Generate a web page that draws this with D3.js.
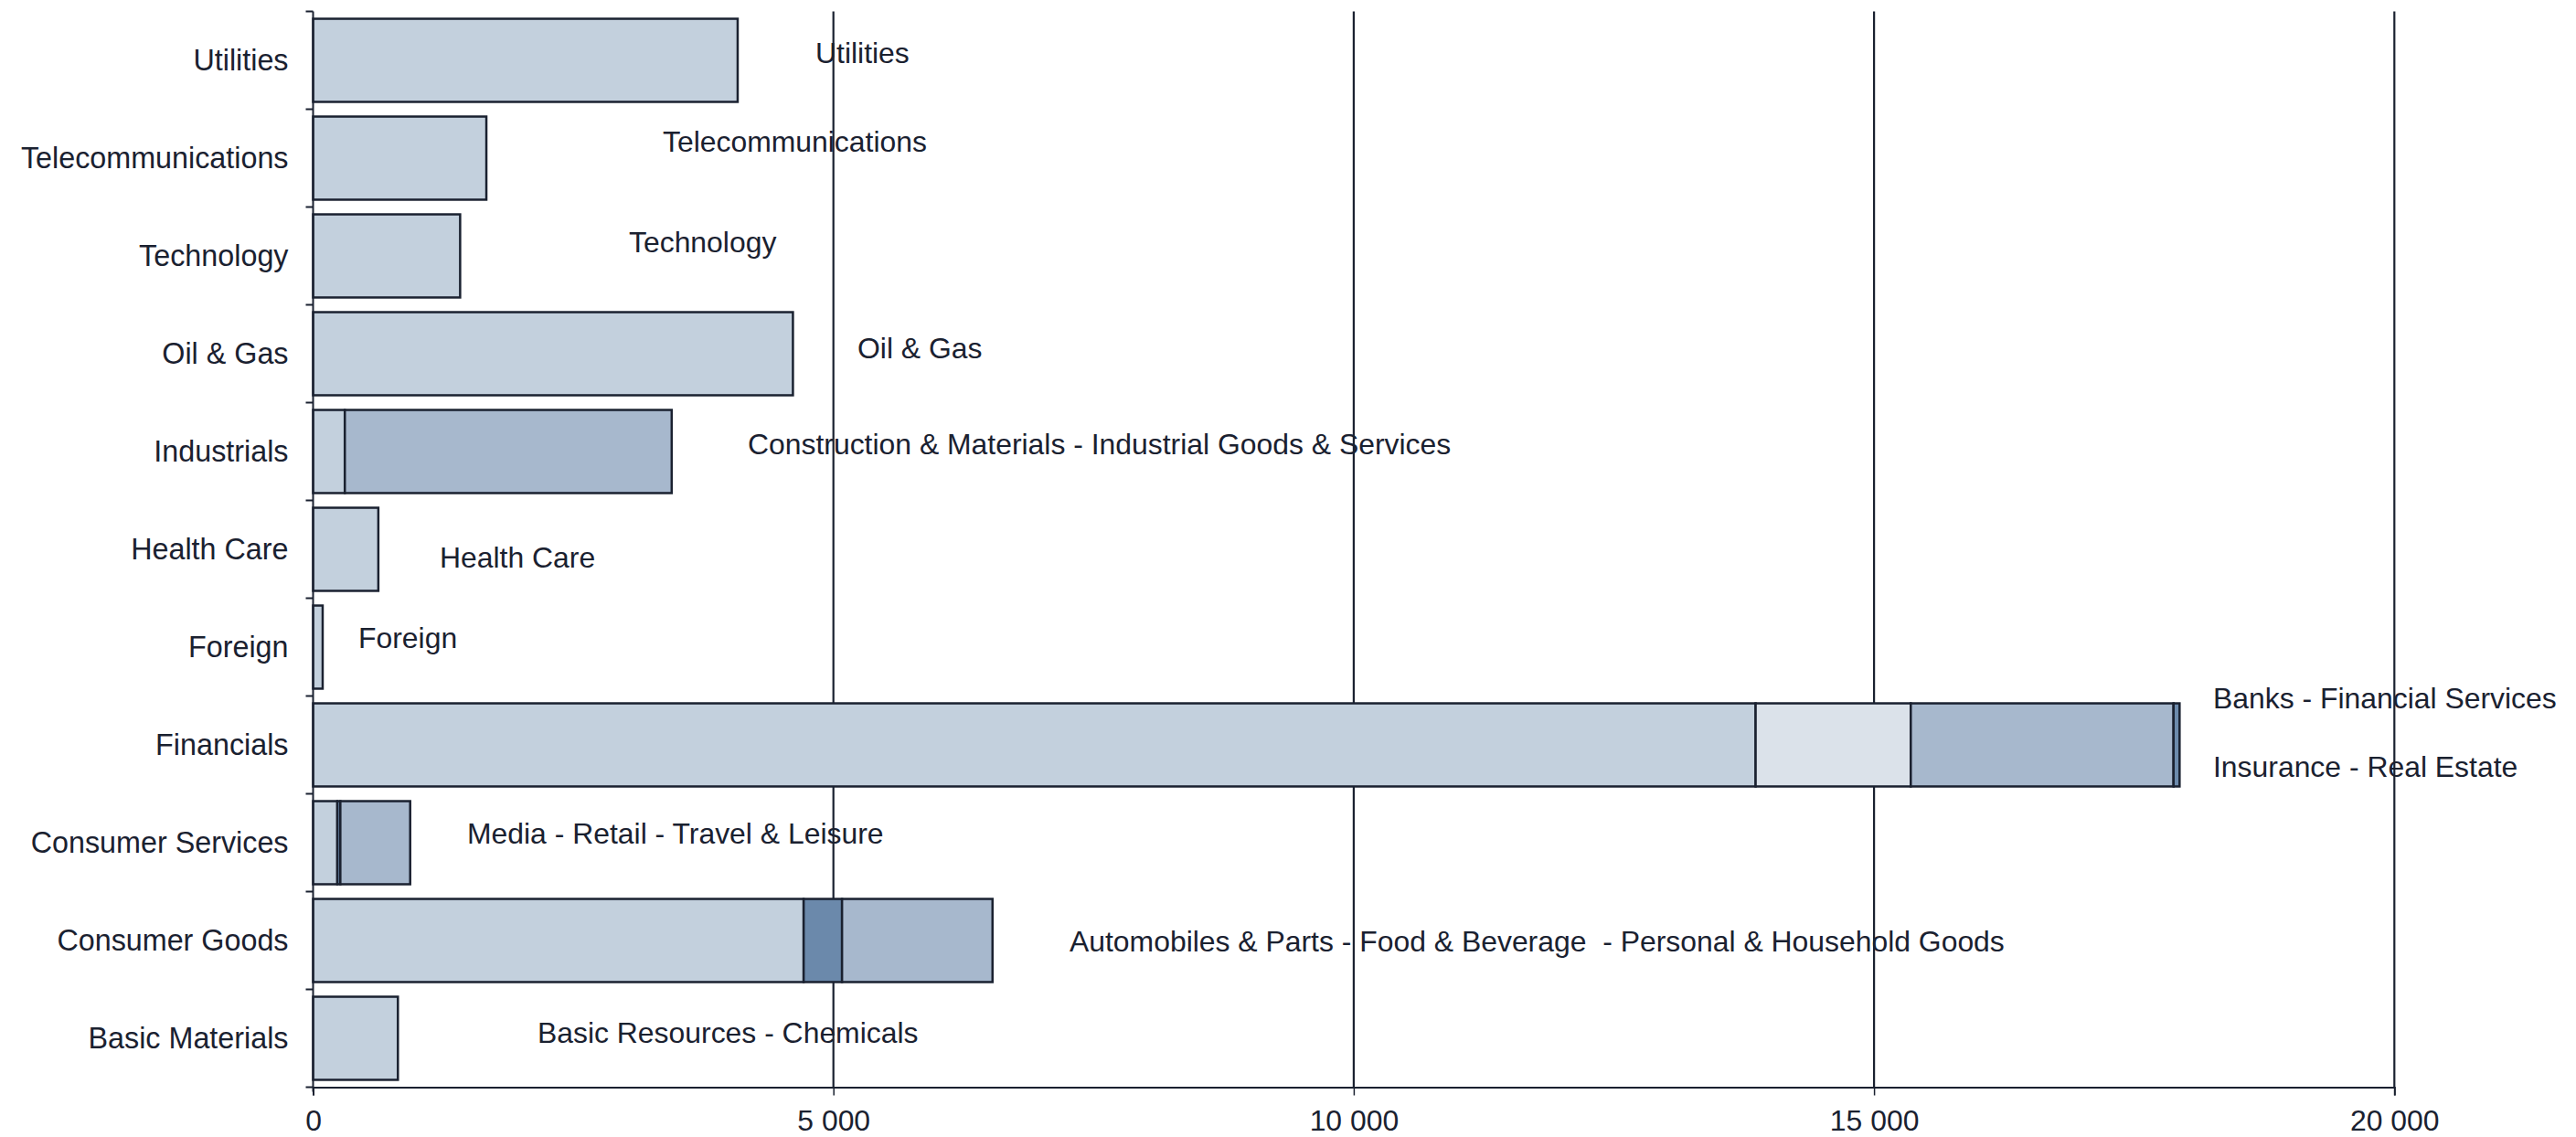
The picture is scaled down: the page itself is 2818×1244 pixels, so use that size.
<!DOCTYPE html>
<html>
<head>
<meta charset="utf-8">
<script src="https://cdn.jsdelivr.net/npm/d3@7"></script>
<style>
  html, body { margin: 0; padding: 0; background: #ffffff; }
  svg { display: block; font-family: "Liberation Sans", Arial, sans-serif; }
  text { white-space: pre; }
</style>
</head>
<body>
<svg id="chart" width="2818" height="1244"></svg>
<script>
// ---------- data ----------
const categories = ["Utilities", "Telecommunications", "Technology", "Oil & Gas", "Industrials",
  "Health Care", "Foreign", "Financials", "Consumer Services", "Consumer Goods", "Basic Materials"];

// stacked segment values per category (left to right)
const segmentValues = [
  [4080],
  [1665],
  [1413],
  [4611],
  [305, 3141],
  [627],
  [92],
  [13862, 1491, 2525, 58],
  [233, 29, 671],
  [4714, 369, 1446],
  [815]
];
// shade index of each segment
const segmentShades = [
  [0], [0], [0], [0], [0, 2], [0], [0], [0, 3, 2, 1], [0, 1, 2], [0, 1, 2], [0]
];

// annotation texts (one or more per category)
const annotationTexts = [
  ["Utilities"],
  ["Telecommunications"],
  ["Technology"],
  ["Oil & Gas"],
  ["Construction & Materials - Industrial Goods & Services"],
  ["Health Care"],
  ["Foreign"],
  ["Banks - Financial Services", "Insurance - Real Estate"],
  ["Media - Retail - Travel & Leisure"],
  ["Automobiles & Parts - Food & Beverage  - Personal & Household Goods"],
  ["Basic Resources - Chemicals"]
];

const xTicks = [0, 5000, 10000, 15000, 20000];

// ---------- layout / style ----------
const W = 2818, H = 1244;
const margin = { top: 12.5, right: 198.7, bottom: 54.5, left: 342.5 };
const shades = ["#c3d0dd", "#6b89ab", "#a7b8cd", "#dbe2ea"];
const ink = "#1a2130";
const fontSize = 32.3;
const annFontSize = 31.9;
// annotation positions: [x px, vertical offset from band centre px]
const annotationLayout = [
  [[892, -8]],
  [[725, -18]],
  [[688, -15]],
  [[938, -6]],
  [[818, -8]],
  [[481, 9]],
  [[392, -10]],
  [[2421, -51], [2421, 24]],
  [[511, -10]],
  [[1170, 1]],
  [[588, -6]]
];

const svg = d3.select("#chart");

const x = d3.scaleLinear().domain([0, 20000]).range([margin.left, W - margin.right]);
const y = d3.scaleBand().domain(categories)
  .range([margin.top, H - margin.bottom])
  .paddingInner(0.15).paddingOuter(0.075);

const step = y.step();
const bandTop = c => y(c) - step * 0.075; // category slot start

// gridlines
svg.append("g").selectAll("line")
  .data(xTicks.filter(d => d > 0))
  .join("line")
  .attr("x1", d => x(d)).attr("x2", d => x(d))
  .attr("y1", margin.top).attr("y2", H - margin.bottom)
  .attr("stroke", ink).attr("stroke-width", 2.2);

// annotations
const annG = svg.append("g").attr("fill", ink).attr("font-size", annFontSize);
categories.forEach((c, i) => {
  annotationTexts[i].forEach((t, j) => {
    const [ax, dy] = annotationLayout[i][j];
    annG.append("text")
      .attr("x", ax)
      .attr("y", y(c) + y.bandwidth() / 2 + dy)
      .attr("dy", "0.36em")
      .text(t);
  });
});

// bars
const barG = svg.append("g");
categories.forEach((c, i) => {
  let acc = 0;
  segmentValues[i].forEach((v, j) => {
    barG.append("rect")
      .attr("x", x(acc))
      .attr("y", y(c))
      .attr("width", x(acc + v) - x(acc))
      .attr("height", y.bandwidth())
      .attr("fill", shades[segmentShades[i][j]])
      .attr("stroke", ink)
      .attr("stroke-width", 2.5);
    acc += v;
  });
});

// x axis
const xAxis = d3.axisBottom(x).tickValues(xTicks)
  .tickSize(9).tickPadding(16)
  .tickFormat(d => d3.format(",")(d).replace(/,/g, " "));
const gx = svg.append("g").attr("transform", `translate(0,${H - margin.bottom})`).call(xAxis);
gx.select(".domain").attr("stroke", ink).attr("stroke-width", 2);
gx.selectAll(".tick line").attr("stroke", ink).attr("stroke-width", 1.5);
gx.selectAll(".tick text").attr("fill", ink).attr("font-size", annFontSize)
  .attr("font-family", "Liberation Sans, Arial, sans-serif");

// y axis: line, ticks at slot boundaries, labels
const gy = svg.append("g");
gy.append("line")
  .attr("x1", margin.left).attr("x2", margin.left)
  .attr("y1", margin.top).attr("y2", H - margin.bottom + 5)
  .attr("stroke", ink).attr("stroke-width", 2);
const boundaries = categories.map(bandTop).concat([H - margin.bottom]);
gy.selectAll("line.tk").data(boundaries).join("line").attr("class", "tk")
  .attr("x1", margin.left - 8).attr("x2", margin.left)
  .attr("y1", d => d).attr("y2", d => d)
  .attr("stroke", ink).attr("stroke-width", 2);
gy.selectAll("text").data(categories).join("text")
  .attr("x", margin.left - 27)
  .attr("y", d => y(d) + y.bandwidth() / 2 - 1)
  .attr("dy", "0.36em")
  .attr("text-anchor", "end")
  .attr("fill", ink)
  .attr("font-size", fontSize)
  .text(d => d);
</script>
</body>
</html>
